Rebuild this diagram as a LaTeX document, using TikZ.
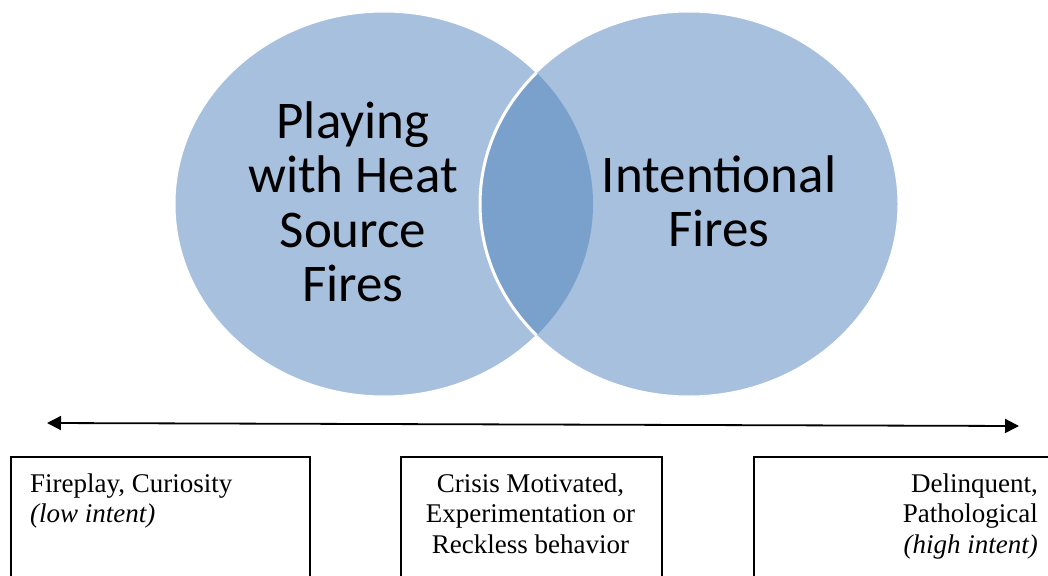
\documentclass[tikz,border=0pt]{standalone}
\usepackage{fontspec}
\setmainfont{Liberation Serif}[ItalicFont={Liberation Serif Italic}]
\newfontfamily\calib{Carlito}
\usetikzlibrary{arrows.meta,shapes.geometric}
\definecolor{vennlight}{HTML}{A7C0DE}
\definecolor{venndark}{HTML}{7AA0CC}
\tikzset{
  venn/.style={ellipse, fill=vennlight, draw=white, line width=1pt, minimum width=418pt, minimum height=384pt, inner sep=0pt},
  venntext/.style={font=\calib\fontsize{53}{54.5}\selectfont, align=center, inner sep=0pt, anchor=north},
  scalebox/.style={draw=black, line width=1.6pt, anchor=north west, minimum height=140pt, inner sep=0pt},
  boxtext/.style={font=\fontsize{27}{30.5}\selectfont, inner sep=0pt},
  spectrum/.style={line width=1.8pt, {Triangle[length=14pt,width=14pt]}-{Triangle[length=14pt,width=14pt]}}
}
\begin{document}
\begin{tikzpicture}[x=1pt,y=-1pt]
\useasboundingbox (0,0) rectangle (1048,575);
\node[venn] (leftc) at (384,204) {};
\node[venn] (rightc) at (689,204) {};
\begin{scope}
  \clip (384,204) ellipse [x radius=209pt, y radius=192pt];
  \fill[venndark] (689,204) ellipse [x radius=209pt, y radius=192pt];
  \draw[white, line width=3pt] (689,204) ellipse [x radius=209pt, y radius=192pt];
\end{scope}
\node[venntext] (lefttext) at (353,101) {Playing\\with Heat\\Source\\Fires};
\node[venntext] (righttext) at (719,155) {Intentional\\Fires};
\coordinate (aL) at (47,423);
\coordinate (aR) at (1019,426);
\draw[spectrum] (aL) -- (aR);
\node[scalebox, minimum width=299pt] (box1) at (10,456) {};
\node[scalebox, minimum width=261pt] (box2) at (400,456) {};
\node[scalebox, minimum width=320pt] (box3) at (753,456) {};
\node[boxtext, align=left, anchor=north west] (t1) at (30,473.5) {Fireplay, Curiosity\\\textit{(low intent)}};
\node[boxtext, align=center, anchor=north] (t2) at (530.5,473.5) {Crisis Motivated,\\Experimentation or\\Reckless behavior};
\node[boxtext, align=right, anchor=north east] (t3) at (1038,473.5) {Delinquent,\\Pathological\\\textit{(high intent)}};
\end{tikzpicture}
\end{document}
